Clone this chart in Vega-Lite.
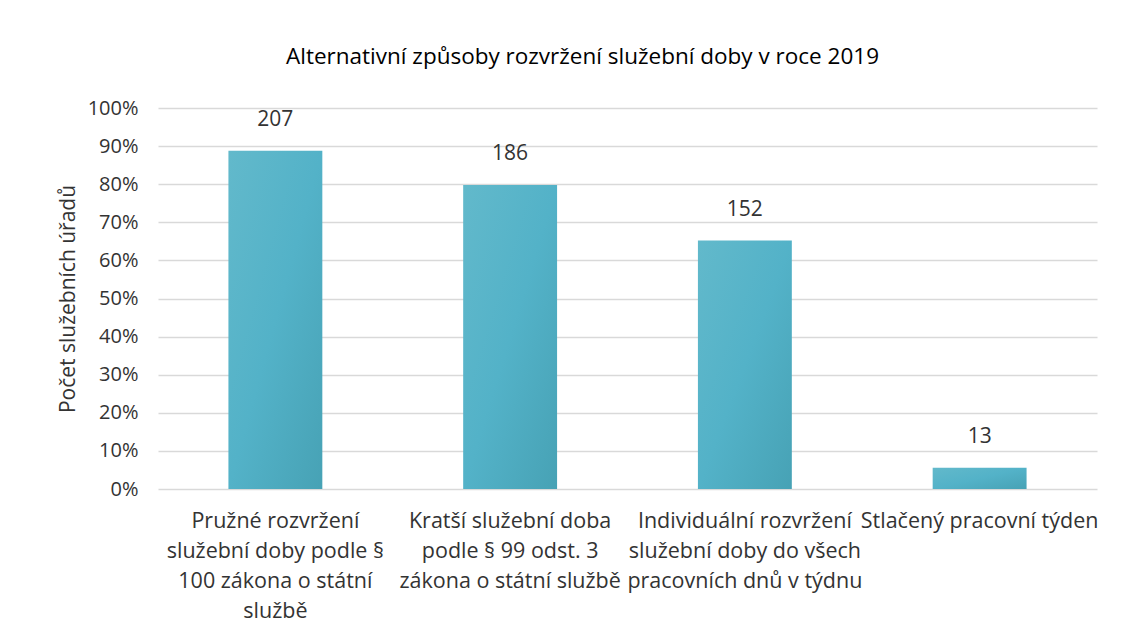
{
  "$schema": "https://vega.github.io/schema/vega-lite/v6.json",
  "autosize": {"type": "none"},
  "width": 939,
  "height": 381,
  "padding": {"left": 158, "top": 108, "right": 34, "bottom": 154},
  "background": "white",
  "title": {
    "text": "Alternativní způsoby rozvržení služební doby v roce 2019",
    "font": "Open Sans",
    "fontSize": 22.5,
    "fontWeight": "normal",
    "color": "#000000",
    "anchor": "middle",
    "offset": 30,
    "dx": -45
  },
  "data": {
    "values": [
      {"kategorie": "Pružné rozvržení|služební doby podle §|100 zákona o státní|službě", "pocet": 207, "podil": 0.888},
      {"kategorie": "Kratší služební doba|podle § 99 odst. 3|zákona o státní službě", "pocet": 186, "podil": 0.798},
      {"kategorie": "Individuální rozvržení|služební doby do všech|pracovních dnů v týdnu", "pocet": 152, "podil": 0.652},
      {"kategorie": "Stlačený pracovní týden", "pocet": 13, "podil": 0.056}
    ]
  },
  "encoding": {
    "x": {
      "field": "kategorie",
      "type": "nominal",
      "sort": null,
      "scale": {"paddingInner": 0.6, "paddingOuter": 0.3},
      "axis": {
        "title": null,
        "labelAngle": 0,
        "labelExpr": "split(datum.label, '|')",
        "labelFont": "Open Sans",
        "labelFontSize": 21.5,
        "labelColor": "#333333",
        "labelLineHeight": 30,
        "labelPadding": 21,
        "labelBaseline": "top",
        "ticks": false,
        "domain": false,
        "labelLimit": 300
      }
    },
    "y": {
      "field": "podil",
      "type": "quantitative",
      "scale": {"domain": [0, 1]},
      "axis": {
        "title": "Počet služebních úřadů",
        "titleFont": "Open Sans",
        "titleFontSize": 21,
        "titleFontWeight": "normal",
        "titleColor": "#333333",
        "titlePadding": 9,
        "format": ".0%",
        "values": [0, 0.1, 0.2, 0.3, 0.4, 0.5, 0.6, 0.7, 0.8, 0.9, 1],
        "labelOverlap": false,
        "labelFont": "Open Sans",
        "labelFontSize": 20,
        "labelColor": "#333333",
        "labelPadding": 20,
        "ticks": false,
        "domain": false,
        "gridColor": "#d9d9d9",
        "gridWidth": 1.5
      }
    }
  },
  "layer": [
    {
      "mark": {
        "type": "bar",
        "color": {
          "gradient": "linear",
          "x1": 0, "y1": 0, "x2": 1, "y2": 1,
          "stops": [
            {"offset": 0, "color": "#62b9cb"},
            {"offset": 0.5, "color": "#53b2c8"},
            {"offset": 1, "color": "#47a2b5"}
          ]
        }
      }
    },
    {
      "mark": {
        "type": "text",
        "font": "Open Sans",
        "fontSize": 21,
        "color": "#333333",
        "baseline": "middle",
        "dy": -31
      },
      "encoding": {
        "text": {"field": "pocet", "type": "quantitative"}
      }
    }
  ],
  "config": {
    "view": {"stroke": null}
  }
}
